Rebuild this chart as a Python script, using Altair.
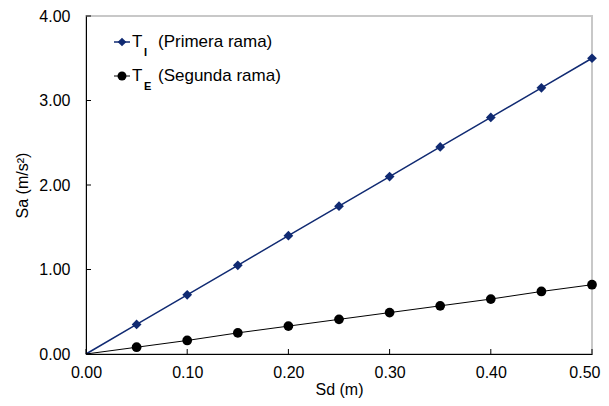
import altair as alt
import pandas as pd

# ---- data ----
sd = [0.00, 0.05, 0.10, 0.15, 0.20, 0.25, 0.30, 0.35, 0.40, 0.45, 0.50]
sa_primera = [0.00, 0.35, 0.70, 1.05, 1.40, 1.75, 2.10, 2.45, 2.80, 3.15, 3.50]
sa_segunda = [0.00, 0.08, 0.16, 0.25, 0.33, 0.41, 0.49, 0.57, 0.65, 0.74, 0.82]
marked = [False, True, True, True, True, True, True, True, True, True, True]

series_names = ["Primera rama", "Segunda rama"]
series_subs = ["I", "E"]
x_ticks = [0.0, 0.1, 0.2, 0.3, 0.4, 0.5]
y_ticks = [0.0, 1.0, 2.0, 3.0, 4.0]

BLUE = "#102a72"
BLACK = "#000000"
FONT = "Liberation Sans"

df1 = pd.DataFrame({"sd": sd, "sa": sa_primera, "m": marked})
df2 = pd.DataFrame({"sd": sd, "sa": sa_segunda, "m": marked})

xs = alt.Scale(domain=[0, 0.5], nice=False, zero=True)
ys = alt.Scale(domain=[0, 4], nice=False, zero=True)

x_axis = alt.Axis(values=x_ticks, format=".2f", title="Sd (m)", grid=False,
                  ticks=False, domainColor=BLACK, domainWidth=1,
                  labelFontSize=16, titleFontSize=16, labelFont=FONT, titleFont=FONT,
                  labelColor=BLACK, titleColor=BLACK, labelPadding=10, titlePadding=1,
                  titleFontWeight="normal", labelFlush=False,
                  labelAlign={"expr": "datum.value >= 0.5 ? 'right' : 'center'"},
                  labelOffset={"expr": "datum.value >= 0.5 ? 8 : 0"})
y_axis = alt.Axis(values=y_ticks, format=".2f", title="Sa (m/s²)", grid=False,
                  ticks=False, domainColor=BLACK, domainWidth=1,
                  labelFontSize=16, titleFontSize=16, labelFont=FONT, titleFont=FONT,
                  labelColor=BLACK, titleColor=BLACK, labelPadding=16, titlePadding=8,
                  titleFontWeight="normal", labelFlush=False)

line1 = alt.Chart(df1).mark_line(color=BLUE, strokeWidth=1.5).encode(
    x=alt.X("sd:Q", scale=xs, axis=x_axis),
    y=alt.Y("sa:Q", scale=ys, axis=y_axis),
)
pts1 = alt.Chart(df1).transform_filter("datum.m").mark_point(
    shape="diamond", filled=True, color=BLUE, size=95, opacity=1
).encode(x=alt.X("sd:Q", scale=xs), y=alt.Y("sa:Q", scale=ys))

line2 = alt.Chart(df2).mark_line(color=BLACK, strokeWidth=1).encode(
    x=alt.X("sd:Q", scale=xs), y=alt.Y("sa:Q", scale=ys)
)
pts2 = alt.Chart(df2).transform_filter("datum.m").mark_point(
    shape="circle", filled=True, color=BLACK, size=95, opacity=1
).encode(x=alt.X("sd:Q", scale=xs), y=alt.Y("sa:Q", scale=ys))

# inward tick marks
tdf_y = pd.DataFrame({"v": y_ticks})
yt = alt.Chart(tdf_y).mark_rule(color=BLACK, strokeWidth=1).encode(
    y=alt.Y("v:Q", scale=ys), x=alt.value(0), x2=alt.value(5)
)
tdf_x = pd.DataFrame({"v": x_ticks})
xt = alt.Chart(tdf_x).mark_rule(color=BLACK, strokeWidth=1).encode(
    x=alt.X("v:Q", scale=xs), y=alt.value(338), y2=alt.value(333)
)

# legend drawn inside the plot
one = pd.DataFrame({"a": [0]})
legend_layers = []
rows = [(BLUE, "diamond", 75, 26), (BLACK, "circle", 80, 60)]
for i, (col, shp, sz, yy) in enumerate(rows):
    legend_layers.append(
        alt.Chart(one).mark_rule(color=col, strokeWidth=1.5 if i == 0 else 1).encode(
            x=alt.value(28), x2=alt.value(44), y=alt.value(yy)))
    legend_layers.append(
        alt.Chart(one).mark_point(shape=shp, filled=True, color=col, size=sz, opacity=1).encode(
            x=alt.value(36), y=alt.value(yy)))
    legend_layers.append(
        alt.Chart(one).mark_text(align="left", baseline="middle", font=FONT, fontSize=17,
                                 color=BLACK).encode(
            x=alt.value(46), y=alt.value(yy), text=alt.value("T")))
    legend_layers.append(
        alt.Chart(one).mark_text(align="left", baseline="middle", font=FONT, fontSize=11,
                                 fontWeight="bold", color=BLACK).encode(
            x=alt.value(58), y=alt.value(yy + 11), text=alt.value(series_subs[i])))
    legend_layers.append(
        alt.Chart(one).mark_text(align="left", baseline="middle", font=FONT, fontSize=17,
                                 color=BLACK).encode(
            x=alt.value(72), y=alt.value(yy), text=alt.value("(" + series_names[i] + ")")))

chart = alt.layer(line1, line2, pts1, pts2, yt, xt, *legend_layers).properties(
    width=506, height=338,
    autosize=alt.AutoSizeParams(type="none"),
    padding={"left": 78, "top": 8, "right": 9, "bottom": 44},
    background="white",
).configure_view(stroke="#c8c8c8", strokeWidth=2)

chart.save("out.html", embed_options={"renderer": "svg", "actions": False})
